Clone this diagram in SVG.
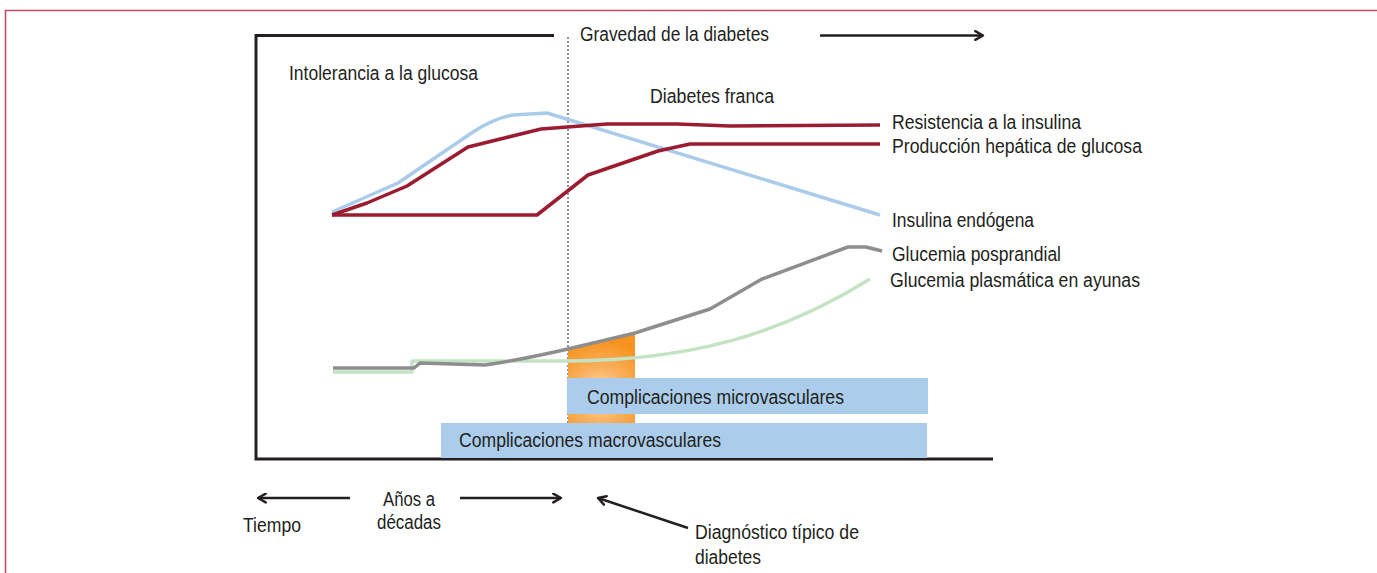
<svg xmlns="http://www.w3.org/2000/svg" width="1377" height="573" viewBox="0 0 1377 573">
<style>
text{font-family:"Liberation Sans Narrow","Liberation Sans",Arial,sans-serif;font-size:19.5px;fill:#231f20}
.frame{fill:none;stroke:#231f20;stroke-width:3}
.arr{fill:none;stroke:#231f20;stroke-width:2.5;marker-end:url(#ah)}
.curve{fill:none;stroke-width:3.5;stroke-linejoin:round;stroke-linecap:butt}
.bar{fill:#abcdeb}
</style>
<defs>
<marker id="ah" viewBox="0 0 10 10" refX="8" refY="5" markerWidth="4.4" markerHeight="4.4" orient="auto" markerUnits="strokeWidth">
<path d="M1,1 L8,5 L1,9" fill="none" stroke="#231f20" stroke-width="2.2" stroke-linecap="round" stroke-linejoin="round"/>
</marker>
<radialGradient id="og" cx="600" cy="395" r="55" gradientUnits="userSpaceOnUse">
<stop offset="0" stop-color="#fde0b8"/>
<stop offset="0.5" stop-color="#f9b05e"/>
<stop offset="1" stop-color="#f7931e"/>
</radialGradient>
</defs>
<rect x="0" y="0" width="1377" height="573" fill="#fff"/>
<path d="M5.5,573 L5.5,10.5 L1377,10.5" fill="none" stroke="#c04a64" stroke-width="1.6"/>

<g id="axes">
<path class="frame" d="M554,35.5 L256,35.5 L256,459 L993,459"/>
<line x1="568" y1="37" x2="568" y2="458" stroke="#231f20" stroke-width="1" stroke-dasharray="2,2"/>
</g>

<g id="orange-zone">
<path d="M568,349 L635,333 L635,423 L568,423 Z" fill="url(#og)"/>
</g>

<g id="bar-micro">
<rect class="bar" x="567" y="378" width="361" height="36"/>
<text x="587" y="403.5" textLength="257" lengthAdjust="spacingAndGlyphs">Complicaciones microvasculares</text>
</g>
<g id="bar-macro">
<rect class="bar" x="441" y="423" width="486" height="35"/>
<text x="459" y="446.5" textLength="262" lengthAdjust="spacingAndGlyphs">Complicaciones macrovasculares</text>
</g>

<g id="connectors">
<path class="curve" stroke="#aacbea" d="M332,212 L398,183 L473,132 Q495,118 513,115 L547,113 L880,215"/>
<path class="curve" stroke="#9b1c31" d="M332,215 L367,203 L407,186 L468,147 L541,129 L607,124 L677,124 L730,126 L880,125"/>
<path class="curve" stroke="#9b1c31" d="M332,215 L537,215 L588,175 L658,151 L690,144 L880,144"/>
<path class="curve" stroke="#c3e3c3" d="M333,372 L412,372 L412,361 L570,361 C690,360 780,335 870,279"/>
<path class="curve" stroke="#8e8e8e" d="M333,368 L414,368 L420,363 L485,365 Q520,360 568,349 L635,333 L710,309 L762,279 L848,247 L866,247 L882,251"/>
<line class="arr" x1="820" y1="35.5" x2="983" y2="35.5"/>
<line class="arr" x1="350" y1="498" x2="258" y2="498"/>
<line class="arr" x1="460" y1="498" x2="561" y2="498"/>
<line class="arr" x1="688" y1="528" x2="598" y2="498"/>
</g>

<g id="labels">
<text x="580" y="40.5" textLength="189" lengthAdjust="spacingAndGlyphs">Gravedad de la diabetes</text>
<text x="289" y="79.5" textLength="189" lengthAdjust="spacingAndGlyphs">Intolerancia a la glucosa</text>
<text x="650" y="102.5" textLength="124" lengthAdjust="spacingAndGlyphs">Diabetes franca</text>
<text x="892" y="128.5" textLength="189" lengthAdjust="spacingAndGlyphs">Resistencia a la insulina</text>
<text x="892" y="152.5" textLength="250" lengthAdjust="spacingAndGlyphs">Producción hepática de glucosa</text>
<text x="892" y="226.5" textLength="142" lengthAdjust="spacingAndGlyphs">Insulina endógena</text>
<text x="892" y="260.5" textLength="169" lengthAdjust="spacingAndGlyphs">Glucemia posprandial</text>
<text x="890" y="286.5" textLength="250" lengthAdjust="spacingAndGlyphs">Glucemia plasmática en ayunas</text>
<text x="383" y="505.5" textLength="52" lengthAdjust="spacingAndGlyphs">Años a</text>
<text x="377" y="528.5" textLength="64" lengthAdjust="spacingAndGlyphs">décadas</text>
<text x="243" y="531.5" textLength="58" lengthAdjust="spacingAndGlyphs">Tiempo</text>
<text x="695" y="538.5" textLength="164" lengthAdjust="spacingAndGlyphs">Diagnóstico típico de</text>
<text x="695" y="563.5" textLength="66" lengthAdjust="spacingAndGlyphs">diabetes</text>
</g>
</svg>
